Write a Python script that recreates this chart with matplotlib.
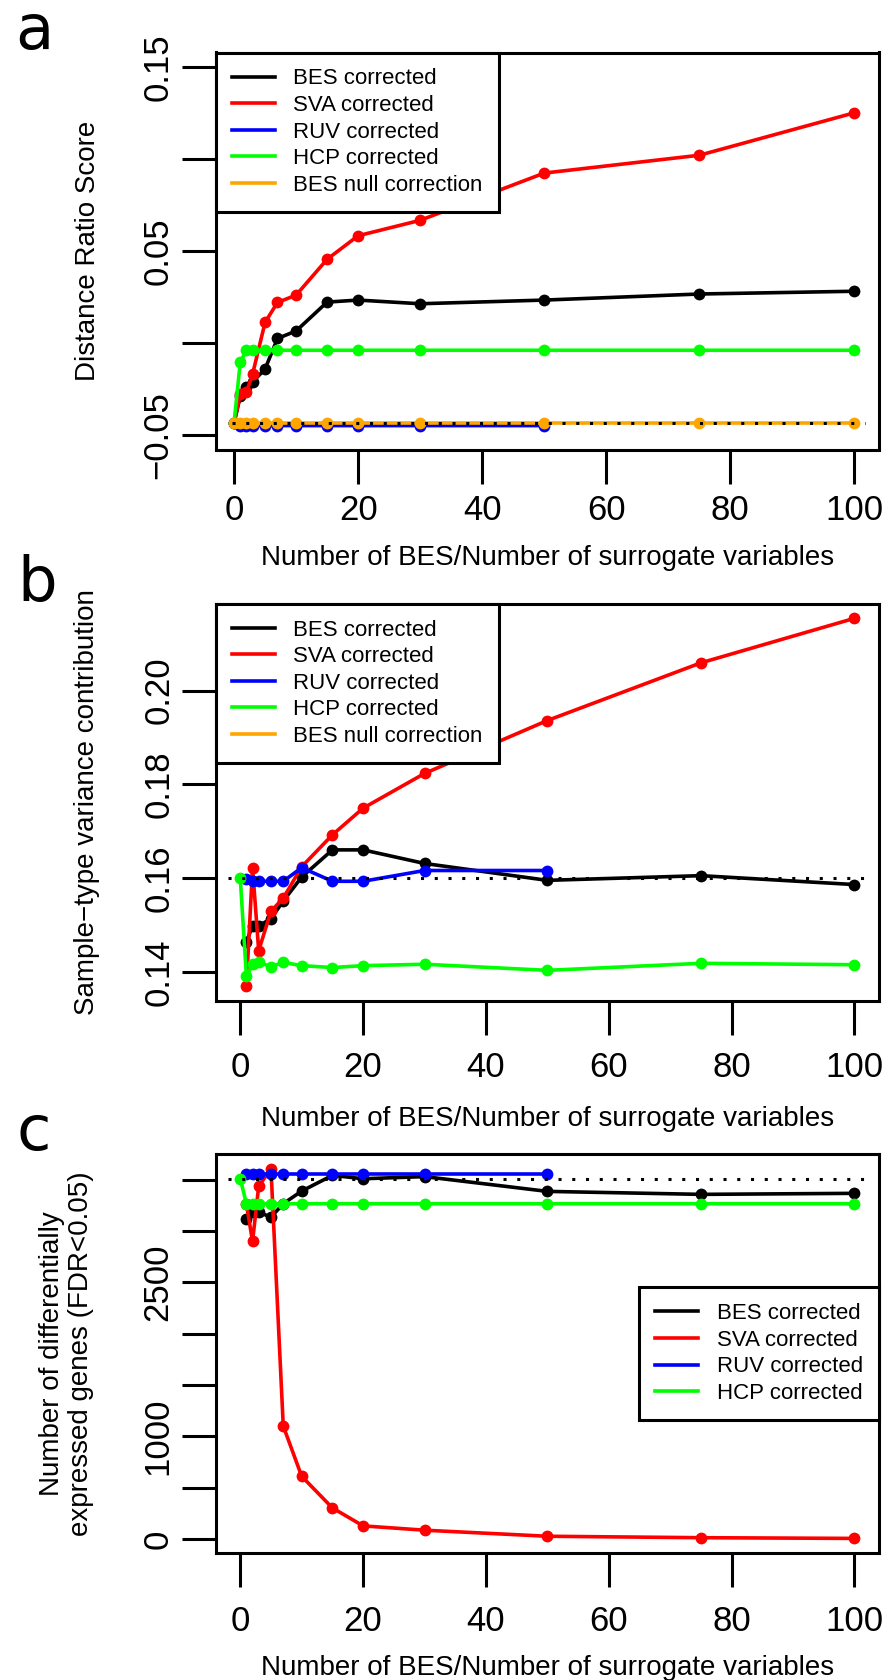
import matplotlib
matplotlib.use('Agg')
import matplotlib.pyplot as plt
from matplotlib.lines import Line2D

W, H = 892, 1680

# ---------------- data ----------------
x_full = [0, 1, 2, 3, 5, 7, 10, 15, 20, 30, 50, 75, 100]
x_nz = [1, 2, 3, 5, 7, 10, 15, 20, 30, 50, 75, 100]
x_ruv_a = [0, 1, 2, 3, 5, 7, 10, 15, 20, 30, 50]
x_ruv = [1, 2, 3, 5, 7, 10, 15, 20, 30, 50]

# panel a : Distance Ratio Score
a_bes = [-0.0435, -0.0290, -0.0238, -0.0212, -0.0142, 0.0024, 0.0065, 0.0222, 0.0233, 0.0213, 0.0233, 0.0266, 0.0281]
a_sva = [-0.0435, -0.0280, -0.0267, -0.0168, 0.0112, 0.0220, 0.0260, 0.0455, 0.0583, 0.0667, 0.0924, 0.1021, 0.1252]
a_ruv = [-0.0435, -0.0450, -0.0450, -0.0450, -0.0450, -0.0450, -0.0450, -0.0450, -0.0450, -0.0450, -0.0450]
a_hcp = [-0.0435, -0.0105, -0.0040, -0.0040, -0.0040, -0.0040, -0.0040, -0.0040, -0.0040, -0.0040, -0.0040, -0.0040, -0.0040]
a_null = [-0.0435, -0.0435, -0.0435, -0.0435, -0.0435, -0.0435, -0.0435, -0.0435, -0.0435, -0.0435, -0.0435, -0.0435, -0.0435]
a_ref = -0.0437

# panel b : Sample-type variance contribution
b_bes = [0.1464, 0.1498, 0.1498, 0.1513, 0.1551, 0.1602, 0.1660, 0.1660, 0.1631, 0.1595, 0.1605, 0.1586]
b_sva = [0.1369, 0.1622, 0.1445, 0.1529, 0.1557, 0.1624, 0.1692, 0.1749, 0.1823, 0.1936, 0.2059, 0.2154]
b_ruv = [0.1597, 0.1593, 0.1593, 0.1593, 0.1593, 0.1622, 0.1593, 0.1593, 0.1616, 0.1616]
b_hcp = [0.1600, 0.1390, 0.1416, 0.1420, 0.1411, 0.1420, 0.1413, 0.1409, 0.1413, 0.1416, 0.1403, 0.1418, 0.1415]
b_ref = 0.1600

# panel c : Number of DE genes
c_bes = [3119, 3184, 3184, 3135, 3266, 3389, 3542, 3509, 3530, 3386, 3357, 3367]
c_sva = [3260, 2900, 3435, 3607, 1101, 612, 304, 129, 87, 28, 14, 7]
c_ruv = [3559, 3559, 3559, 3559, 3559, 3559, 3559, 3559, 3559, 3559]
c_hcp = [3510, 3266, 3266, 3266, 3266, 3266, 3266, 3266, 3266, 3266, 3266, 3266, 3266]
c_ref = 3510

legend5 = ['BES corrected', 'SVA corrected', 'RUV corrected', 'HCP corrected', 'BES null correction']
legend4 = ['BES corrected', 'SVA corrected', 'RUV corrected', 'HCP corrected']

a_yticks = [-0.05, 0.0, 0.05, 0.10, 0.15]
a_ylabels = ['\u22120.05', '', '0.05', '', '0.15']
b_yticks = [0.14, 0.16, 0.18, 0.20]
b_ylabels = ['0.14', '0.16', '0.18', '0.20']
c_yticks = [0, 500, 1000, 1500, 2000, 2500, 3000, 3500]
c_ylabels = ['0', '', '1000', '', '', '2500', '', '']
xticks = [0, 20, 40, 60, 80, 100]

COL = {'BES': '#000000', 'SVA': '#FF0000', 'RUV': '#0000FF', 'HCP': '#00FF00', 'NULL': '#FFA500'}

# ---------------- style ----------------
plt.rcParams['font.family'] = ['Liberation Sans', 'DejaVu Sans']
LW = 2.2       # frame / ticks
SLW = 2.6      # series lines
MS = 8.5
TICK_FS = 25
LAB_FS = 20
LEG_FS = 16

fig = plt.figure(figsize=(W / 100, H / 100), dpi=100)


def make_ax(top, bottom, left=215.7, right=879.0):
    return fig.add_axes([left / W, 1 - bottom / H, (right - left) / W, (bottom - top) / H])


def pad_lim(lo, hi):
    r = hi - lo
    return lo - 0.04 * r, hi + 0.04 * r


def style_ax(ax, yticks, ylabels, xpad, ypad):
    for s in ax.spines.values():
        s.set_linewidth(LW)
    ax.set_xticks(xticks)
    ax.set_xticklabels([str(t) for t in xticks])
    ax.set_yticks(yticks)
    ax.set_yticklabels(ylabels)
    ax.tick_params(axis='both', direction='out', length=24.5, width=LW, labelsize=TICK_FS)
    ax.tick_params(axis='x', pad=xpad)
    ax.tick_params(axis='y', pad=ypad, labelrotation=90)
    plt.setp(ax.get_yticklabels(), va='center')


def series(ax, x, y, c, z):
    ax.plot(x, y, color=c, lw=SLW, marker='o', ms=MS, mew=0, zorder=z, clip_on=False)


def legend(ax, labels, loc, anchor):
    cols = [COL['BES'], COL['SVA'], COL['RUV'], COL['HCP'], COL['NULL']]
    handles = [Line2D([0], [0], color=cols[i], lw=SLW) for i in range(len(labels))]
    lg = ax.legend(handles, labels, loc=loc, bbox_to_anchor=anchor, borderaxespad=0,
                   fontsize=LEG_FS, handlelength=1.93, handletextpad=0.85,
                   borderpad=0.72, labelspacing=0.25, fancybox=False, framealpha=1,
                   edgecolor='black')
    lg.get_frame().set_linewidth(LW)
    lg.set_zorder(10)
    return lg


# ---------------- panel a ----------------
ax = make_ax(52.5, 449.5)
series(ax, x_full, a_bes, COL['BES'], 3)
series(ax, x_full, a_sva, COL['SVA'], 3)
series(ax, x_ruv_a, a_ruv, COL['RUV'], 3)
series(ax, x_full, a_hcp, COL['HCP'], 3)
series(ax, x_full, a_null, COL['NULL'], 3)
ax.plot([-0.4, 101.7], [a_ref, a_ref], color='black', lw=LW, ls=(0, (1, 3.5)), zorder=4)
ax.set_xlim(*pad_lim(1, 100))
ax.set_ylim(*pad_lim(-0.05, 0.15))
style_ax(ax, a_yticks, a_ylabels, xpad=7.2, ypad=5)
legend(ax, legend5, 'upper left', (0, 1))

# ---------------- panel b ----------------
ax = make_ax(603.6, 1001.0)
series(ax, x_nz, b_bes, COL['BES'], 3)
series(ax, x_nz, b_sva, COL['SVA'], 3)
series(ax, x_ruv, b_ruv, COL['RUV'], 3)
series(ax, x_full, b_hcp, COL['HCP'], 3)
ax.plot([-2.0, 102.5], [b_ref, b_ref], color='black', lw=LW, ls=(0, (1, 3.5)), zorder=4)
ax.set_xlim(*pad_lim(0, 100))
ball = b_bes + b_sva + b_ruv + b_hcp
ax.set_ylim(*pad_lim(min(ball), max(ball)))
style_ax(ax, b_yticks, b_ylabels, xpad=11.5, ypad=4)
legend(ax, legend5, 'upper left', (0, 1))

# ---------------- panel c ----------------
ax = make_ax(1153.9, 1553.2)
series(ax, x_nz, c_bes, COL['BES'], 3)
series(ax, x_nz, c_sva, COL['SVA'], 3)
series(ax, x_ruv, c_ruv, COL['RUV'], 3)
series(ax, x_full, c_hcp, COL['HCP'], 3)
ax.plot([-2.0, 102.5], [c_ref, c_ref], color='black', lw=LW, ls=(0, (1, 3.5)), zorder=4)
ax.set_xlim(*pad_lim(0, 100))
call = c_bes + c_sva + c_ruv + c_hcp
ax.set_ylim(*pad_lim(min(call), max(call)))
style_ax(ax, c_yticks, c_ylabels, xpad=13, ypad=5)
legend(ax, legend4, 'center right', (1, 0.5))

# ---------------- labels ----------------
cx = (215.7 + 879.0) / 2
xlab = 'Number of BES/Number of surrogate variables'
for yb in (565, 1126, 1675):
    fig.text(cx / W, 1 - yb / H, xlab, ha='center', va='baseline', fontsize=LAB_FS)


def ylab(xb, yc, s):
    fig.text(xb / W, 1 - yc / H, s, rotation=90, rotation_mode='anchor',
             ha='center', va='baseline', fontsize=LAB_FS)


ylab(95, 251, 'Distance Ratio Score')
ylab(94, 802, 'Sample\u2212type variance contribution')
ylab(59, 1353.5, 'Number of differentially')
ylab(88, 1353.5, 'expressed genes (FDR<0.05)')

for s, xl, yb in (('a', 15, 49), ('b', 17, 601), ('c', 17, 1150)):
    fig.text(xl / W, 1 - yb / H, s, ha='left', va='baseline', fontsize=45, family='DejaVu Sans')

fig.savefig('out.png', dpi=100)
